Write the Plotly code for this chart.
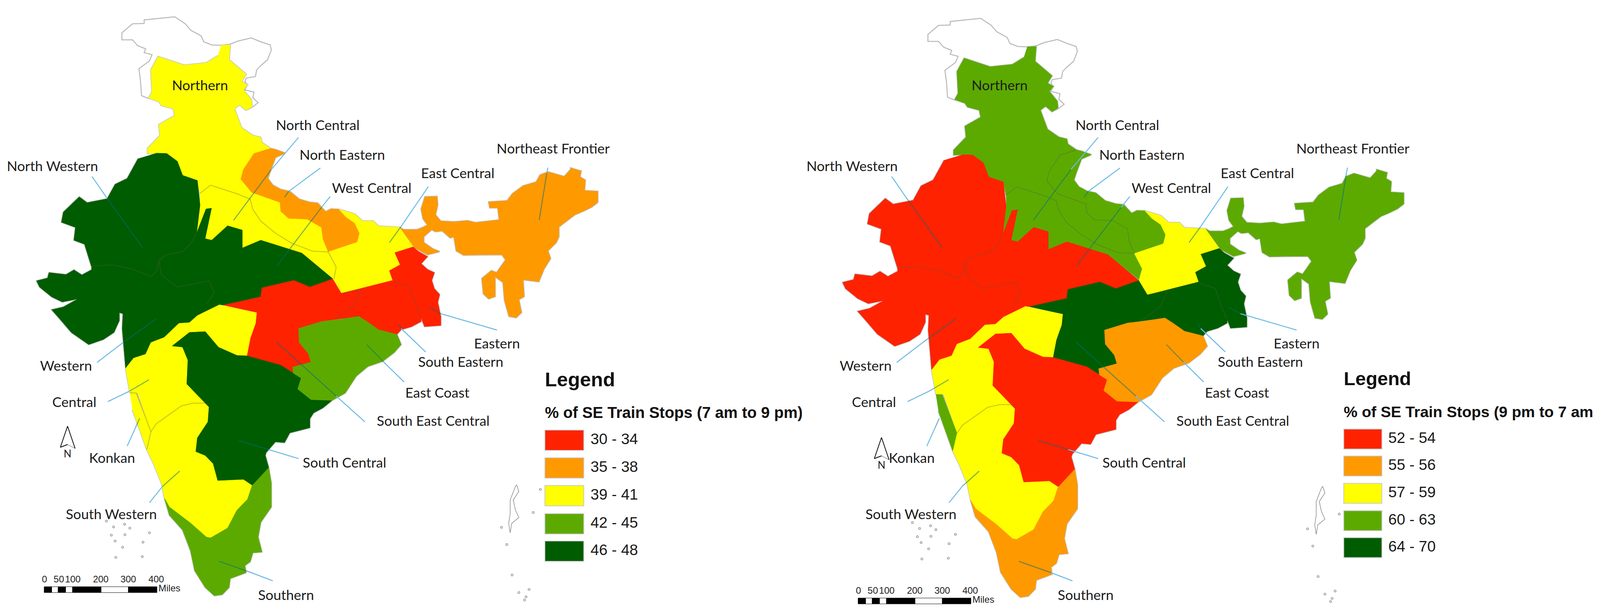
import plotly.graph_objects as go

# Railway zones, outlines (map pixels)
northern = [(586,116),(610,115),(607,153),(652,190),(640,209),(656,217),(645,230),(666,255),(668,273),(652,282),
            (635,268),(621,278),(640,327),(670,347),(691,352),(694,365),(717,380),(673,393),(645,434),(638,459),
            (666,492),(742,518),(744,541),(765,559),(814,561),(852,582),(856,612),(870,645),(828,643),(772,622),
            (730,597),(691,566),(670,536),(663,510),(631,497),(558,474),(530,495),(523,462),(484,449),(470,413),
            (442,393),(414,392),(391,393),(391,380),(424,347),(421,319),(463,296),(459,278),(428,270),(421,260),
            (394,251),(403,235),(400,179),(419,145),(488,167),(547,161),(577,143)]
north_central = [(530,495),(558,474),(631,497),(663,510),(670,536),(691,566),(730,597),(772,622),(828,643),(870,645),
                 (891,684),(885,714),(800,648),(691,615),(642,635),(642,589),(603,578),(561,615),(544,611),(561,533),
                 (546,535),(521,597),(530,525)]
north_eastern = [(666,492),(742,518),(744,541),(765,559),(814,561),(852,582),(856,612),(870,645),(947,620),(953,597),
                 (940,571),(915,554),(898,536),(877,535),(863,542),(842,520),(821,518),(793,510),(768,490),(744,485),
                 (723,474),(710,457),(716,439),(730,403),(756,392),(730,383),(717,380),(673,393),(645,434),(638,459)]
east_central = [(898,536),(940,548),(961,566),(989,566),(1003,579),(1059,582),(1095,632),(1046,647),(1060,678),(1032,693),
                (1040,718),(905,751),(882,714),(891,684),(870,645),(947,620),(953,597),(940,571),(915,554)]
northeast_frontier = [(1059,582),(1070,588),(1105,588),(1119,583),(1133,576),(1121,560),(1116,535),(1126,504),(1158,503),(1160,524),
                      (1154,550),(1168,566),(1203,568),(1239,565),(1260,570),(1323,563),(1319,532),(1298,532),(1295,517),(1344,514),
                      (1358,496),(1386,476),(1421,466),(1431,448),(1452,440),(1495,452),(1512,434),(1512,430),(1540,438),(1537,453),
                      (1551,461),(1549,488),(1584,490),(1584,518),(1568,530),(1547,540),(1523,550),(1498,568),(1481,581),(1481,606),
                      (1474,621),(1452,642),(1459,662),(1442,688),(1428,721),(1386,716),(1389,759),(1375,767),(1382,800),(1368,813),
                      (1349,810),(1337,769),(1333,723),(1312,708),(1312,759),(1295,765),(1281,752),(1277,713),(1302,693),(1316,698),
                      (1340,665),(1330,652),(1267,652),(1228,653),(1209,642),(1203,606),(1193,609),(1172,591),(1154,593),(1144,588),
                      (1123,606),(1123,621),(1147,637),(1165,644),(1133,652),(1098,634)]
eastern = [(1046,647),(1095,632),(1109,644),(1133,657),(1116,675),(1133,690),(1151,698),(1144,718),(1151,739),(1165,754),
           (1160,774),(1168,810),(1168,833),(1125,836),(1116,813),(1105,790),(1084,734),(1042,721),(1032,693),(1060,678)]
south_eastern = [(905,751),(1040,718),(1042,721),(1084,734),(1105,790),(1116,813),(1116,823),(1091,836),(1063,844),(1052,856),
                 (1003,844),(972,823),(951,810),(887,818),(940,780),(958,740)]
south_east_central = [(882,714),(821,735),(779,718),(694,737),(691,760),(593,781),(680,800),(677,828),(663,866),(654,911),
                      (744,935),(777,955),(775,940),(824,927),(817,905),(793,877),(791,841),(852,823),(887,818),(940,780),
                      (958,740),(905,751)]
west_central = [(561,533),(546,535),(521,597),(505,625),(484,644),(438,653),(421,668),(428,704),(470,735),(554,719),
                (568,750),(547,780),(582,780),(593,781),(691,760),(694,737),(779,718),(821,735),(882,714),(800,648),
                (691,615),(642,635),(642,589),(603,578),(561,615),(544,611)]
north_western = [(414,392),(442,393),(470,413),(484,449),(523,462),(530,525),(521,597),(505,625),(484,644),(438,653),
                 (421,668),(414,696),(400,708),(351,689),(298,678),(242,681),(224,625),(196,615),(200,582),(163,569),
                 (168,543),(210,504),(231,519),(284,509),(305,472),(337,457),(366,406)]
western = [(242,681),(298,678),(351,689),(400,708),(414,696),(421,668),(428,704),(470,735),(554,719),(568,750),
           (547,780),(582,780),(523,808),(502,826),(474,828),(435,864),(400,877),(386,907),(354,917),(333,943),
           (324,841),(326,803),(316,800),(316,821),(302,851),(274,869),(235,882),(189,851),(158,816),(137,793),
           (168,786),(207,765),(165,773),(137,760),(105,735),(97,719),(126,712),(130,698),(175,703),(196,691),
           (217,704),(242,691)]
central = [(582,780),(523,808),(502,826),(474,828),(435,864),(400,877),(386,907),(354,917),(333,943),(344,1004),
           (365,1006),(400,1105),(414,1085),(481,1039),(512,1032),(544,1032),(554,1042),(495,983),(498,922),(484,889),
           (456,886),(502,851),(544,849),(579,889),(628,910),(654,911),(663,866),(677,828),(680,800)]
konkan = [(344,1006),(361,1006),(400,1105),(389,1151),(372,1105),(351,1049)]
south_western = [(400,1105),(414,1085),(481,1039),(512,1032),(544,1032),(554,1042),(551,1080),(523,1121),(519,1156),(544,1166),
                 (565,1187),(577,1230),(645,1227),(668,1243),(656,1278),(628,1306),(603,1352),(558,1377),(547,1375),(505,1339),
                 (449,1298),(436,1276),(428,1237),(407,1187),(389,1151)]
south_central = [(456,886),(502,851),(544,849),(579,889),(628,910),(654,911),(744,935),(777,955),(798,968),(789,996),
                 (824,1023),(880,1025),(856,1044),(831,1057),(821,1072),(821,1095),(768,1108),(754,1133),(730,1131),(705,1159),
                 (703,1166),(712,1197),(670,1243),(645,1227),(577,1230),(565,1187),(544,1166),(519,1156),(523,1121),(551,1080),
                 (554,1042),(495,983),(498,922),(484,889)]
east_coast = [(775,940),(824,927),(817,905),(793,877),(791,841),(852,823),(898,818),(951,810),(972,823),(1003,844),
              (1052,856),(1063,882),(1045,902),(1014,925),(975,938),(944,963),(915,1006),(880,1025),(824,1023),(789,996),
              (798,968),(777,955)]
southern = [(712,1197),(719,1237),(719,1298),(691,1337),(684,1375),(694,1413),(670,1415),(663,1438),(649,1448),(652,1466),
            (610,1481),(607,1504),(589,1522),(568,1525),(544,1504),(516,1461),(505,1410),(484,1357),(449,1319),(438,1283),
            (436,1276),(449,1298),(505,1339),(547,1375),(558,1377),(603,1352),(628,1306),(656,1278),(668,1243)]

kashmir = [(396,253),(375,245),(372,204),(368,176),(396,156),(403,140),(382,135),(386,125),(365,117),(351,102),
           (323,102),(323,84),(351,61),(382,60),(382,51),(435,46),(463,43),(491,61),(505,77),(533,92),
           (540,107),(561,115),(586,116),(610,113),(631,105),(666,97),(691,107),(716,115),(719,128),(709,153),
           (691,168),(680,179),(677,196),(652,200),(649,209),(656,217),(649,230),(673,236),(670,250),(684,263),
           (666,276),(652,282)]

andaman = [(1369,1241),(1375,1258),(1360,1280),(1366,1306),(1375,1325),(1356,1340),(1352,1364),(1348,1340),(1352,1315),(1352,1280),(1366,1245),(1369,1241)]
island_x = [301,330,344,396,295,331,305,325,379,307,377,282,1343,1357,1375,1402,1394,1390,1432,1413,1329]
island_y = [1349,1342,1352,1364,1370,1369,1385,1401,1388,1427,1425,1334,1394,1472,1517,1509,1528,1536,1253,1312,1350]

# draw order matters a little, neighbours overlap along the traced edges
zones = [northern, north_central, north_eastern, east_central, northeast_frontier, west_central, north_western,
         western, south_east_central, south_eastern, eastern, central, konkan, south_western, south_central,
         east_coast, southern]
day_class = ["39 - 41", "39 - 41", "35 - 38", "39 - 41", "35 - 38", "46 - 48", "46 - 48",
             "46 - 48", "30 - 34", "30 - 34", "30 - 34", "39 - 41", "39 - 41", "39 - 41", "46 - 48",
             "42 - 45", "42 - 45"]
night_class = ["60 - 63", "60 - 63", "60 - 63", "57 - 59", "60 - 63", "52 - 54", "52 - 54",
               "52 - 54", "64 - 70", "64 - 70", "64 - 70", "57 - 59", "60 - 63", "57 - 59", "52 - 54",
               "55 - 56", "55 - 56"]

# shared borders: (zone a, zone b, points). Only visible when both sides have the same colour
borders = [
    (0, 1, [(530,495),(558,474),(631,497),(663,510),(670,536),(691,566),(730,597),(772,622),(828,643),(870,645)]),
    (1, 3, [(870,645),(891,684),(885,714)]),
    (0, 2, [(717,380),(673,393),(645,434),(638,459),(666,492),(742,518),(744,541),(765,559),(814,561),(852,582),(856,612),(870,645)]),
    (5, 6, [(521,597),(505,625),(484,644),(438,653),(421,668)]),
    (6, 7, [(242,681),(298,678),(351,689),(400,708),(414,696),(421,668)]),
    (5, 7, [(421,668),(428,704),(470,735),(554,719),(568,750),(547,780)]),
    (8, 9, [(905,751),(958,740),(940,780),(887,818)]),
    (9, 10, [(1042,721),(1084,734),(1105,790),(1116,813)]),
    (11, 12, [(344,1006),(361,1006),(400,1105)]),
    (12, 13, [(400,1105),(389,1151)]),
    (11, 13, [(400,1105),(414,1085),(481,1039),(512,1032),(544,1032),(554,1042)]),
]

day_bins = ["30 - 34", "35 - 38", "39 - 41", "42 - 45", "46 - 48"]
night_bins = ["52 - 54", "55 - 56", "57 - 59", "60 - 63", "64 - 70"]
bin_colors = ["#ff2200", "#ff9900", "#ffff00", "#5caa00", "#005c00"]

# zone labels and their leader lines (outer end, where it meets the map, inner end)
label_names = ["Northern", "North Central", "North Eastern", "North Western", "West Central", "East Central",
               "Northeast Frontier", "Eastern", "South Eastern", "East Coast", "South East Central", "Central",
               "Western", "Konkan", "South Central", "South Western", "Southern"]
label_x = [530, 842, 907, 139, 985, 1213, 1466, 1317, 1221, 1159, 1148, 197, 175, 297, 913, 295, 758]
label_y = [222, 324, 400, 429, 485, 447, 384, 883, 930, 1009, 1081, 1033, 940, 1176, 1188, 1320, 1527]
leader_x0 = [None, 791, 849, 244, 875, 1135, 1452, 1317, 1128, 1071, 967, 286, 257, 337, 791, 396, 723]
leader_y0 = [None, 352, 430, 452, 503, 478, 429, 845, 901, 978, 1080, 1028, 928, 1142, 1174, 1287, 1487]
leader_xm = [None, 719, 765, 284, 852, 1062, 1449, 1168, 1063, 1017, 891, 344, 326, 359, 712, 431, 666]
leader_ym = [None, 434, 490, 508, 531, 581, 443, 803, 841, 927, 1014, 1001, 877, 1095, 1151, 1245, 1466]
leader_x1 = [None, 619, 754, 377, 735, 1032, 1429, 1137, 1056, 972, 733, 395, 414, 370, 633, 476, 581]
leader_y1 = [None, 564, 505, 633, 679, 621, 563, 787, 830, 882, 876, 972, 816, 1071, 1128, 1206, 1437]

scale_edges = [117, 137, 154, 174, 192, 268, 340, 416]
scale_ticks = ["0", "50", "100", "200", "300", "400"]
scale_tick_x = [118, 156, 193, 267, 340, 414]
arrow_x = [160, 179, 199, 179, 160]
arrow_y = [1145, 1091, 1148, 1138, 1145]

MAP_FONT = "Lato"
LEG_FONT = "Liberation Sans"

fig = go.Figure()


def add_panel(ax, ay, classes, bins, title, map_dx, map_dy, leg_x, leg_y, leg_size, val_size, val_x, swatch_h, swatch_w, title_size):
    # map_dx / map_dy: how far the labels and scale furniture sit from the map in this panel
    colors = dict(zip(bins, bin_colors))
    common = dict(xaxis=ax, yaxis=ay, showlegend=False, hoverinfo="skip")

    fig.add_trace(go.Scatter(x=[p[0] for p in kashmir], y=[p[1] for p in kashmir], mode="lines",
                             line=dict(color="#b8b8b8", width=2.5), **common))
    # grey coast first, then the fills on top of it
    for zone in zones:
        fig.add_trace(go.Scatter(x=[p[0] for p in zone], y=[p[1] for p in zone], mode="lines",
                                 line=dict(color="#c4c4c4", width=4), **common))
    for zone, cls in zip(zones, classes):
        fig.add_trace(go.Scatter(x=[p[0] for p in zone], y=[p[1] for p in zone], mode="lines", fill="toself",
                                 fillcolor=colors[cls], line=dict(color=colors[cls], width=1), **common))
    for a, b, pts in borders:
        if classes[a] == classes[b]:
            fig.add_trace(go.Scatter(x=[p[0] for p in pts], y=[p[1] for p in pts], mode="lines",
                                     line=dict(color="rgba(90,90,70,0.38)", width=2), **common))

    # islands
    fig.add_trace(go.Scatter(x=[p[0] for p in andaman], y=[p[1] for p in andaman], mode="lines",
                             line=dict(color="#8a8a8a", width=1.5), **common))
    fig.add_trace(go.Scatter(x=island_x, y=island_y, mode="markers",
                             marker=dict(symbol="circle-open", size=5, color="#909090", line=dict(width=1.5)), **common))

    # leaders, light blue outside the map and darker where they cross the colour
    ox, oy, ix, iy = [], [], [], []
    for x0, y0, xm, ym, x1, y1 in zip(leader_x0, leader_y0, leader_xm, leader_ym, leader_x1, leader_y1):
        if x0 is None:
            continue
        ox += [x0 + map_dx, xm + map_dx, None]
        oy += [y0 + map_dy, ym + map_dy, None]
        ix += [xm + map_dx, x1 + map_dx, None]
        iy += [ym + map_dy, y1 + map_dy, None]
    fig.add_trace(go.Scatter(x=ox, y=oy, mode="lines", line=dict(color="#6dbbe6", width=2.5), **common))
    fig.add_trace(go.Scatter(x=ix, y=iy, mode="lines", line=dict(color="rgba(0,110,130,0.55)", width=2.5), **common))

    fig.add_trace(go.Scatter(x=[x + map_dx for x in label_x], y=[y + map_dy for y in label_y], mode="text",
                             text=label_names, textposition="middle center",
                             textfont=dict(family=MAP_FONT, size=35.5, color="#1c1c1c"), **common))

    # north arrow and scale bar
    fx, fy = (0, 0) if ax == "x" else (21, 25)
    fig.add_trace(go.Scatter(x=[x + fx for x in arrow_x], y=[y + fy for y in arrow_y], mode="lines",
                             line=dict(color="#9a9a9a", width=1.5), **common))
    fig.add_trace(go.Scatter(x=[x + fx for x in arrow_x[3:] + arrow_x[1:3]], y=[y + fy for y in arrow_y[3:] + arrow_y[1:3]],
                             mode="lines", line=dict(color="#111111", width=2), **common))
    fig.add_trace(go.Scatter(x=[arrow_x[1] + fx], y=[1164 + fy], mode="text", text=["N"], textposition="middle center",
                             textfont=dict(family=MAP_FONT, size=26, color="#1c1c1c"), **common))
    for i in range(len(scale_edges) - 1):
        fig.add_shape(type="rect", xref=ax, yref=ay, x0=scale_edges[i] + fx, x1=scale_edges[i + 1] + fx,
                      y0=1502 + fy, y1=1517 + fy, fillcolor="#000000" if i % 2 == 0 else "#ffffff",
                      line=dict(color="#000000", width=1))
    fig.add_trace(go.Scatter(x=[x + fx for x in scale_tick_x], y=[1485 + fy] * len(scale_tick_x), mode="text",
                             text=scale_ticks, textposition="middle center",
                             textfont=dict(family=LEG_FONT, size=24, color="#222222"), **common))
    fig.add_trace(go.Scatter(x=[449 + fx], y=[1508 + fy], mode="text", text=["Miles"], textposition="middle center",
                             textfont=dict(family=LEG_FONT, size=24, color="#222222"), **common))

    # legend block
    fig.add_trace(go.Scatter(x=[leg_x], y=[leg_y[0]], mode="text", text=["<b>Legend</b>"], textposition="middle right",
                             textfont=dict(family=LEG_FONT, size=leg_size, color="#111111"), **common))
    fig.add_trace(go.Scatter(x=[leg_x], y=[leg_y[1]], mode="text", text=["<b>" + title + "</b>"], textposition="middle right",
                             textfont=dict(family=LEG_FONT, size=title_size, color="#111111"), cliponaxis=True, **common))
    for b, c, y in zip(bins, bin_colors, leg_y[2:]):
        fig.add_shape(type="rect", xref=ax, yref=ay, x0=leg_x, x1=leg_x + swatch_w, y0=y - swatch_h / 2, y1=y + swatch_h / 2,
                      fillcolor=c, line=dict(color="#c9c9c9", width=2))
    fig.add_trace(go.Scatter(x=[val_x] * len(bins), y=leg_y[2:], mode="text", text=bins, textposition="middle right",
                             textfont=dict(family=LEG_FONT, size=val_size, color="#1a1a1a"), **common))


add_panel("x", "y", day_class, day_bins, "% of SE Train Stops (7 am to 9 pm)", 0, 0,
          1444, [976, 1060, 1127, 1198, 1269, 1341, 1411], 50.5, 39, 1565, 52, 103, 40)
# right panel: axis is shifted so the map lands 2136 px over, labels only 2119
add_panel("x2", "y2", night_class, night_bins, "% of SE Train Stops (9 pm to 7 am)", -17, -4,
          3561 - 2136, [970, 1054, 1120, 1189, 1259, 1329, 1398], 48.5, 39, 3679 - 2136, 51, 101, 39.5)

fig.update_layout(
    margin=dict(l=0, r=0, t=0, b=0),
    paper_bgcolor="#ffffff", plot_bgcolor="#ffffff",
    xaxis=dict(domain=[0, 2125 / 4240], range=[0, 2125], visible=False),
    yaxis=dict(domain=[0, 1], range=[1577, 0], visible=False),
    xaxis2=dict(domain=[2125 / 4240, 4222 / 4240], range=[-11, 2086], visible=False, anchor="y2"),
    yaxis2=dict(domain=[0, 1], range=[1573, -4], visible=False, anchor="x2"),
)

fig.write_html("out.html", default_height="100vh", default_width="100vw",
               config={"displayModeBar": False}, post_script="document.body.style.margin='0';")
